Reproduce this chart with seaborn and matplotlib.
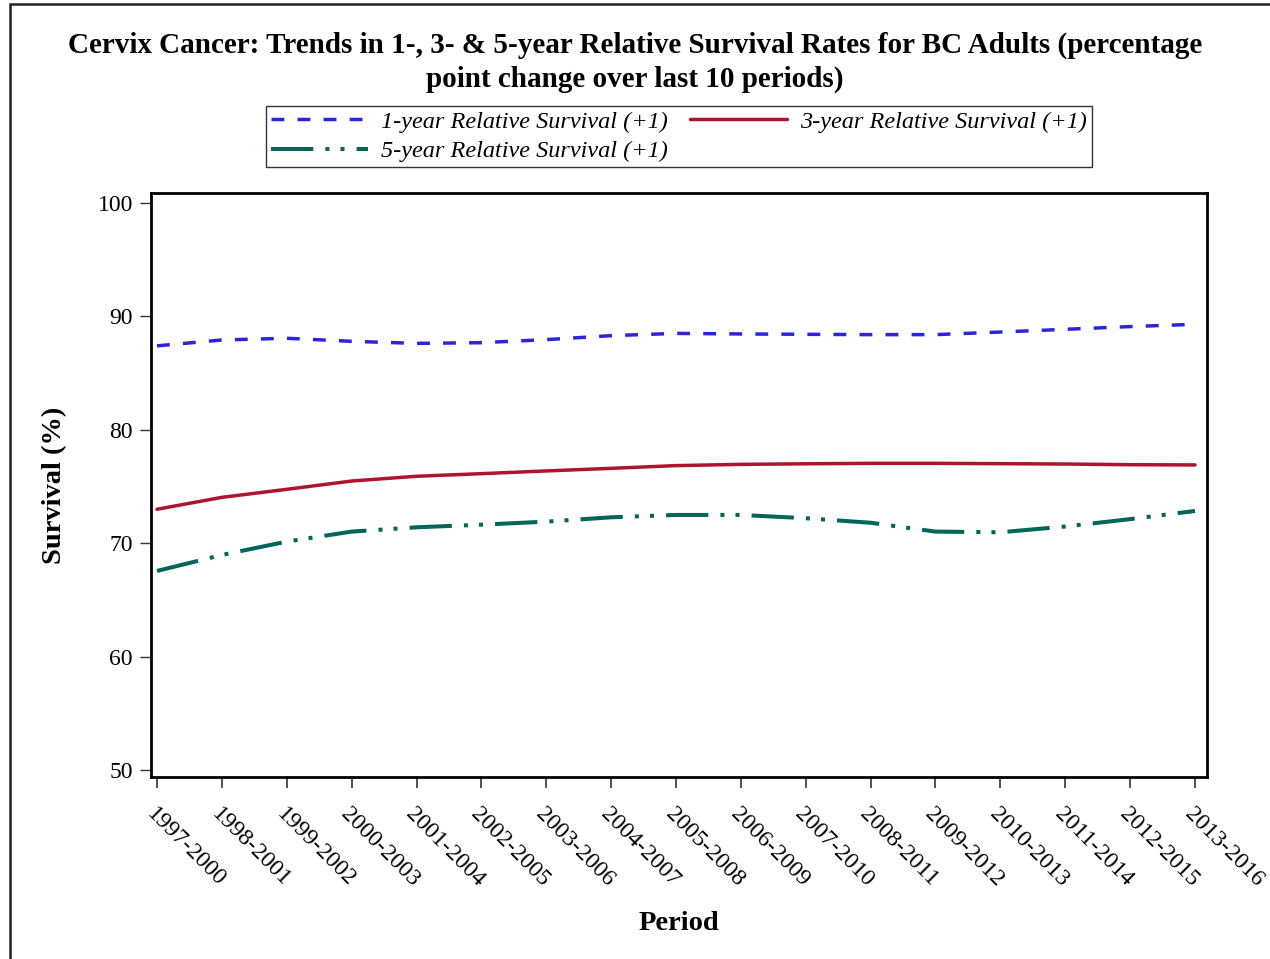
import matplotlib
matplotlib.use("Agg")
import matplotlib.pyplot as plt
import matplotlib.transforms as mtransforms
import seaborn as sns
import pandas as pd
from matplotlib.patches import Rectangle

periods = ["1997-2000", "1998-2001", "1999-2002", "2000-2003", "2001-2004", "2002-2005",
           "2003-2006", "2004-2007", "2005-2008", "2006-2009", "2007-2010", "2008-2011",
           "2009-2012", "2010-2013", "2011-2014", "2012-2015", "2013-2016"]
surv_1yr = [87.4, 87.92, 88.07, 87.8, 87.62, 87.68, 87.95, 88.3, 88.5, 88.45, 88.42,
            88.39, 88.39, 88.62, 88.86, 89.1, 89.3]
surv_3yr = [72.99, 74.04, 74.75, 75.48, 75.9, 76.13, 76.37, 76.6, 76.84, 76.95, 77.0,
            77.04, 77.04, 77.01, 76.98, 76.92, 76.9]
surv_5yr = [67.55, 68.96, 70.14, 71.02, 71.4, 71.63, 71.9, 72.28, 72.49, 72.49, 72.2,
            71.8, 71.02, 70.96, 71.47, 72.12, 72.84]
series_labels = ["1-year Relative Survival (+1)", "3-year Relative Survival (+1)",
                 "5-year Relative Survival (+1)"]
y_ticks = [50, 60, 70, 80, 90, 100]

sns.set_theme(style="white")
plt.rcParams["font.family"] = ["Liberation Serif", "DejaVu Serif"]
plt.rcParams["text.color"] = "black"
plt.rcParams["axes.labelcolor"] = "black"
plt.rcParams["xtick.color"] = "black"
plt.rcParams["ytick.color"] = "black"

fig = plt.figure(figsize=(12.7, 9.59), dpi=100)
ax = fig.add_axes([151 / 1270, 1 - 777 / 959, (1207 - 151) / 1270, (777 - 193) / 959])

xpos = list(range(len(periods)))
df = pd.DataFrame({"x": xpos, "y1": surv_1yr, "y3": surv_3yr, "y5": surv_5yr})

blue = "#2B24DE"
red = "#AE142D"
green = "#00665A"

sns.lineplot(data=df, x="x", y="y1", ax=ax, color=blue, lw=2.5, label=series_labels[0])
sns.lineplot(data=df, x="x", y="y3", ax=ax, color=red, lw=2.5, label=series_labels[1])
sns.lineplot(data=df, x="x", y="y5", ax=ax, color=green, lw=2.9, label=series_labels[2])
lines = ax.get_lines()
lines[0].set_dashes((3.7, 3.8))
lines[2].set_dashes((10.5, 3, 1, 2.75, 1, 3))

ax.set_xlim(-0.0925, 16.185)
ax.set_ylim(49.38, 100.88)
ax.set_xticks(xpos)
ax.set_xticklabels(periods, rotation=-45, ha="left", va="top", rotation_mode="anchor",
                   fontsize=17)
shift = mtransforms.ScaledTranslation(-5 / 100, 0, fig.dpi_scale_trans)
for t in ax.get_xticklabels():
    t.set_transform(t.get_transform() + shift)
ax.set_yticks(y_ticks)
ax.set_yticklabels([str(v) for v in y_ticks], fontsize=17)
ax.tick_params(axis="y", direction="out", length=8, width=1, color="#333333", pad=5, left=True)
ax.tick_params(axis="x", direction="out", length=8, width=1.2, color="#333333", pad=11, bottom=True)
for s in ax.spines.values():
    s.set_visible(True)
    s.set_color("black")
    s.set_linewidth(2)

ax.set_xlabel("Period", fontsize=20.5, fontweight="bold", labelpad=15)
ax.set_ylabel("Survival (%)", fontsize=20.5, fontweight="bold", labelpad=22)

fig.suptitle("Cervix Cancer: Trends in 1-, 3- & 5-year Relative Survival Rates for BC Adults (percentage\npoint change over last 10 periods)",
             fontsize=21, fontweight="bold", y=1 - 32 / 959, va="top", linespacing=1.28)

ax.get_legend().remove()
h, lab = ax.get_legend_handles_labels()
order = [0, 2, 1]
leg = fig.legend([h[i] for i in order], [lab[i] for i in order], loc="upper center",
                 bbox_to_anchor=(679 / 1270, 1 - 106 / 959), ncol=2, frameon=True,
                 fancybox=False, edgecolor="black", prop={"style": "italic", "size": 17.5},
                 handlelength=4.0, columnspacing=0.9, handletextpad=0.55, borderpad=0.2,
                 labelspacing=0.3, borderaxespad=0)
leg.get_frame().set_linewidth(1)

fig.patches.append(Rectangle((10 / 1270, -0.05), 1.1, 1 - 4 / 959 + 0.05, transform=fig.transFigure,
                             fill=False, edgecolor="#222222", linewidth=1.8))

fig.savefig("out.png", dpi=100)
